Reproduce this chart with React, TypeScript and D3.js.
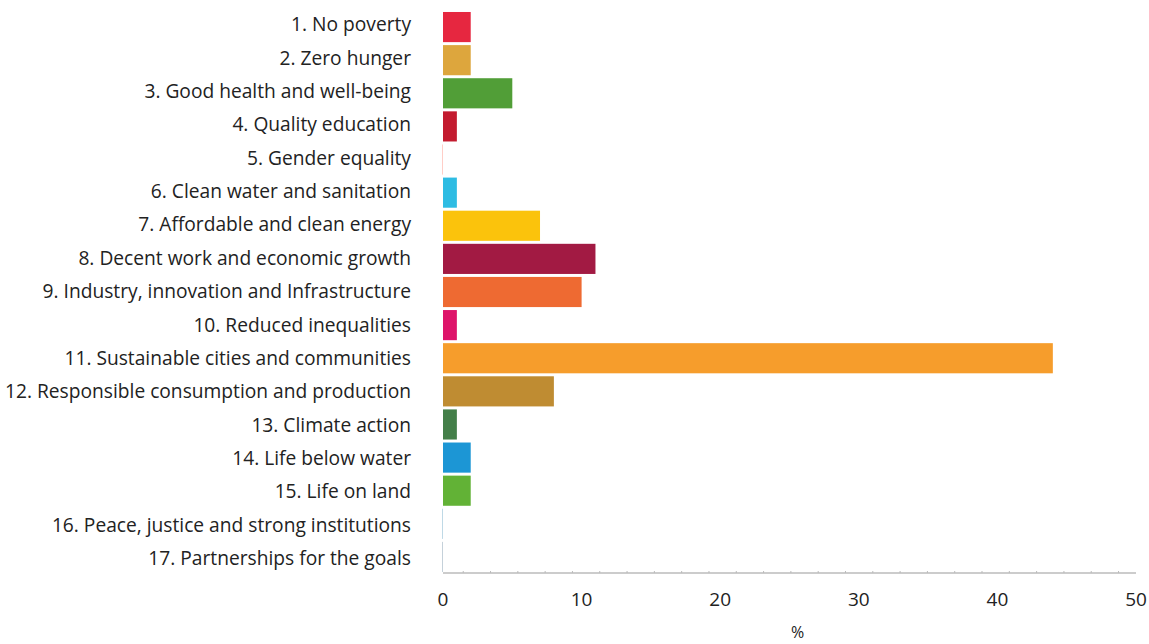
import React from "react";
import * as d3 from "d3";

const categories = [
  "1. No poverty",
  "2. Zero hunger",
  "3. Good health and well-being",
  "4. Quality education",
  "5. Gender equality",
  "6. Clean water and sanitation",
  "7. Affordable and clean energy",
  "8. Decent work and economic growth",
  "9. Industry, innovation and Infrastructure",
  "10. Reduced inequalities",
  "11. Sustainable cities and communities",
  "12. Responsible consumption and production",
  "13. Climate action",
  "14. Life below water",
  "15. Life on land",
  "16. Peace, justice and strong institutions",
  "17. Partnerships for the goals",
];

const values = [2, 2, 5, 1, 0, 1, 7, 11, 10, 1, 44, 8, 1, 2, 2, 0, 0];

const colors = [
  "#E62740",
  "#DDA63D",
  "#519E37",
  "#C31B2F",
  "#FF3A21",
  "#2EBCE3",
  "#FBC30C",
  "#A21A43",
  "#EE6A32",
  "#DE146A",
  "#F69D2C",
  "#BF8C32",
  "#447F49",
  "#1C96D5",
  "#62B236",
  "#00689D",
  "#19486A",
];

const xTicks = [0, 10, 20, 30, 40, 50];
const xLabel = "%";

export default function App() {
  const width = 1149;
  const height = 644;
  const x0 = 443;
  const x1 = 1136;
  const x = d3.scaleLinear().domain([0, 50]).range([x0, x1]);
  const y = d3
    .scaleBand<string>()
    .domain(categories)
    .range([10.5, 573.5])
    .paddingInner(0.09)
    .paddingOuter(0.045);
  const yLabel = d3.scalePoint<string>().domain(categories).range([26, 560]);
  const axisY = 573;
  const minor = d3.range(0, 25).map((i) => 1.46 + i * 1.97);
  const font = "'Open Sans', 'Noto Sans', sans-serif";

  return (
    <svg
      width={width}
      height={height}
      style={{ position: "absolute", left: 0, top: 0, background: "#fff" }}
    >
      {categories.map((c, i) => {
        const v = values[i];
        const w = x(v) - x(0);
        const yy = y(c)!;
        return (
          <g key={c}>
            {v > 0 ? (
              <rect x={x(0)} y={yy} width={w} height={y.bandwidth()} fill={colors[i]} />
            ) : (
              <rect
                x={x(0) - 1}
                y={yy}
                width={1}
                height={y.bandwidth()}
                fill={colors[i]}
                opacity={0.25}
              />
            )}
            <text
              x={411}
              y={yLabel(c)!}
              textAnchor="end"
              dominantBaseline="middle"
              fontFamily={font}
              fontSize={19.2}
              fill="#222"
            >
              {c}
            </text>
          </g>
        );
      })}
      <line x1={x0} x2={x1} y1={axisY} y2={axisY} stroke="#cccccc" strokeWidth={2} />
      {minor.map((t, i) => (
        <line
          key={i}
          x1={x(t)}
          x2={x(t)}
          y1={axisY - 2}
          y2={axisY}
          stroke="#bbbbbb"
          strokeWidth={1}
        />
      ))}
      {xTicks.map((t) => (
        <text
          key={t}
          x={x(t)}
          y={601}
          textAnchor="middle"
          dominantBaseline="middle"
          fontFamily={font}
          fontSize={19}
          fill="#222"
        >
          {t}
        </text>
      ))}
      <text
        x={(x0 + x1) / 2 + 8}
        y={634}
        textAnchor="middle"
        dominantBaseline="middle"
        fontFamily={font}
        fontSize={16}
        fill="#222"
      >
        {xLabel}
      </text>
    </svg>
  );
}
